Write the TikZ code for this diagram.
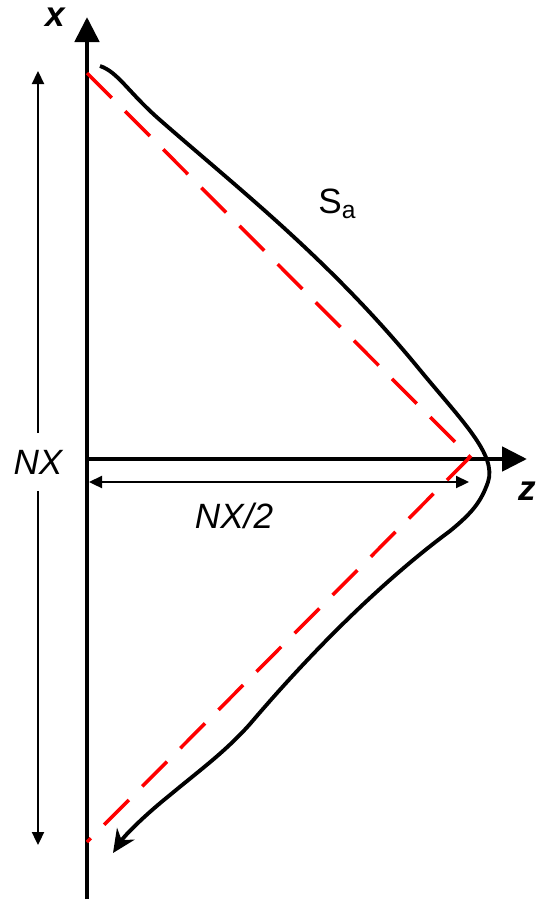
\documentclass[tikz,border=0pt]{standalone}
\usepackage{fontspec}
\setmainfont{Liberation Sans}
\usetikzlibrary{arrows.meta}

\begin{document}
\begin{tikzpicture}[
    x=0.2mm, y=-0.2mm,
    font=\fontsize{20}{24}\selectfont,
    axis/.style={line width=2.8pt, -{Triangle[length=5mm,width=4.8mm]}},
    dimarrow/.style={line width=1.3pt, -{Triangle[length=2.6mm,width=2.4mm]}},
    profile/.style={line width=2.2pt, -{Stealth[length=4.6mm,width=4.2mm]}},
    approx/.style={red, line width=2pt, dash pattern=on 7mm off 3.8mm},
    axlabel/.style={font=\fontsize{20}{24}\selectfont\bfseries\itshape},
    dimlabel/.style={font=\fontsize{20}{24}\selectfont\itshape}
  ]
  \useasboundingbox (0,0) rectangle (537,907);

  \coordinate (origin) at (87,459);
  \coordinate (xbottom) at (87,899);
  \coordinate (xtip) at (87,17);
  \coordinate (ztip) at (527,459);
  \coordinate (nxtop) at (38,71);
  \coordinate (nxbottom) at (38,845);
  \coordinate (halfleft) at (89,482);
  \coordinate (halfright) at (469,482);
  \coordinate (redtop) at (87,73);
  \coordinate (apex) at (470,457);
  \coordinate (redbottom) at (87,842);
  \coordinate (sastart) at (100,66);
  \coordinate (saend) at (113,853);

  \node[axlabel] (xlabel) at (55,17) {x};
  \node[axlabel] (zlabel) at (527,491) {z};
  \node[dimlabel, inner ysep=3.3mm] (nx) at (38,462) {NX};
  \node[dimlabel, anchor=base] (nxhalf) at (234,528) {NX/2};
  \node[anchor=base west, inner sep=0pt] (sa) at (318,213) {S\textsubscript{a}};

  \draw[axis] (xbottom) -- (xtip);
  \draw[axis] (origin) -- (ztip);

  \draw[dimarrow] (nx) -- (nxtop);
  \draw[dimarrow] (nx) -- (nxbottom);
  \draw[dimarrow, {Triangle[length=2.6mm,width=2.4mm]}-{Triangle[length=2.6mm,width=2.4mm]}]
    (halfleft) -- (halfright);

  \draw[profile] (sastart)
    .. controls (118,72) and (128,92) .. (160,120)
    .. controls (240,190) and (330,260) .. (420,370)
    .. controls (462,421) and (497,455) .. (488,482)
    .. controls (481,502) and (472,513) .. (450,531)
    .. controls (400,568) and (330,630) .. (250,724)
    .. controls (225,752) and (200,770) .. (170,795)
    .. controls (145,815) and (125,835) .. (saend);

  \draw[approx] (redtop) -- (apex) -- (redbottom);
\end{tikzpicture}
\end{document}
